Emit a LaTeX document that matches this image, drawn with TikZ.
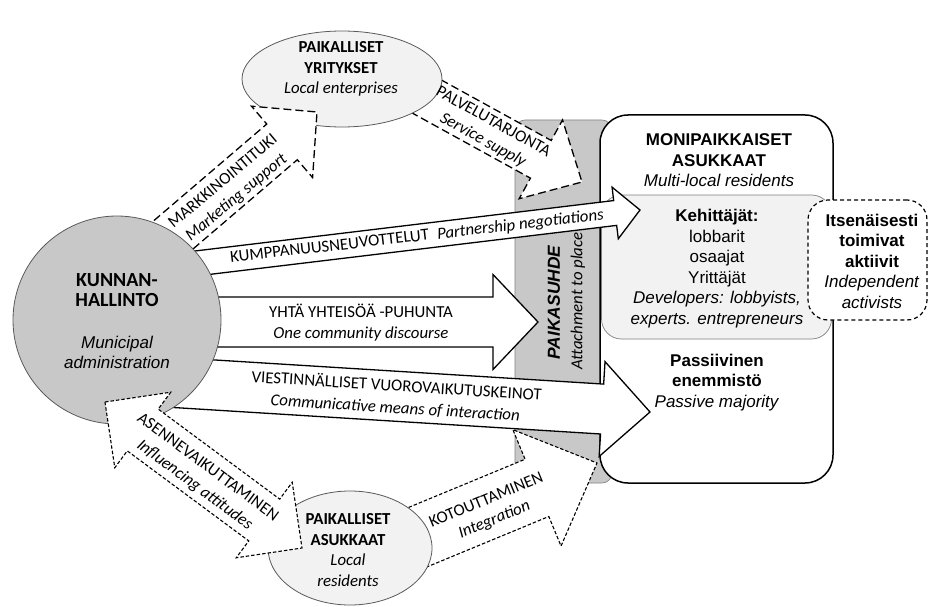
\documentclass[tikz,border=0pt]{standalone}
\usepackage{fontspec}
\setmainfont{Carlito}
\newfontfamily\arialf{Liberation Sans}
\usetikzlibrary{calc,shapes.geometric}
\definecolor{cgray}{RGB}{200,200,200}
\definecolor{lgray}{RGB}{242,242,242}
\definecolor{bordergray}{RGB}{90,90,90}
\definecolor{bargray}{RGB}{130,130,130}
% #1 style, #2 tail, #3 tip, #4 shaft half width, #5 head half width, #6 head length
\newcommand\blockarrow[6]{%
  \coordinate (bah) at ($(#3)!#6!(#2)$);
  \draw[#1] ($(#2)!#4!90:(#3)$) -- ($(bah)!#4!90:(#3)$) -- ($(bah)!#5!90:(#3)$) -- (#3)
    -- ($(bah)!#5!-90:(#3)$) -- ($(bah)!#4!-90:(#3)$) -- ($(#2)!#4!-90:(#3)$) -- cycle;}
\newcommand\dblblockarrow[6]{%
  \coordinate (baa) at ($(#2)!#6!(#3)$);
  \coordinate (bab) at ($(#3)!#6!(#2)$);
  \draw[#1] (#2) -- ($(baa)!#5!90:(#3)$) -- ($(baa)!#4!90:(#3)$) -- ($(bab)!#4!-90:(#2)$)
    -- ($(bab)!#5!-90:(#2)$) -- (#3) -- ($(bab)!#5!90:(#2)$) -- ($(bab)!#4!90:(#2)$)
    -- ($(baa)!#4!-90:(#3)$) -- ($(baa)!#5!-90:(#3)$) -- cycle;}
\begin{document}
\begin{tikzpicture}[x=1pt,y=-1pt,
  arr/.style={draw=black,line width=1.3pt,fill=white,line join=miter},
  arrlong/.style={arr,dash pattern=on 8pt off 4pt},
  arrshort/.style={arr,line width=1.1pt,dash pattern=on 3.5pt off 2pt},
  lbl/.style={inner sep=0pt,align=center,font=\fontsize{16.8}{21}\selectfont},
  atext/.style={inner sep=0pt,align=center,font=\arialf\fontsize{17}{20.5}\selectfont},
  ctext/.style={inner sep=0pt,align=center,font=\fontsize{16.8}{20.4}\selectfont}]
\useasboundingbox (0,0) rectangle (929,607);

% boxes on the right
\node[draw=bargray,line width=0.6pt,fill=cgray,rounded corners=10pt,minimum width=97pt,minimum height=363pt,inner sep=0pt] (bar) at (563.5,301.5) {};
\node[draw=black,line width=1.5pt,fill=white,rounded corners=28pt,minimum width=233pt,minimum height=368pt,inner sep=0pt] (mono) at (716.5,299) {};
\node[draw=gray,line width=0.7pt,fill=lgray,rounded corners=20pt,minimum width=230pt,minimum height=144pt,inner sep=0pt] (keh) at (716.5,267) {};
\node[draw=black,line width=1.2pt,dash pattern=on 4pt off 3pt,fill=white,rounded corners=20pt,minimum width=119pt,minimum height=120pt,inner sep=0pt] (ind) at (867.5,260) {};

% service supply arrow
\coordinate (palT) at (409.5,87); \coordinate (palH) at (582,182);
\blockarrow{arrlong}{palT}{palH}{21.5pt}{45pt}{47pt}

% local enterprises
\node[ellipse,draw=bordergray,line width=0.8pt,fill=lgray,minimum width=200pt,minimum height=96pt,inner sep=0pt] (yrit) at (342,79) {};

% marketing support arrow
\coordinate (mkT) at (151,254); \coordinate (mkH) at (317,112);
\blockarrow{arrlong}{mkT}{mkH}{23.5pt}{47pt}{46pt}

% partnership negotiations
\coordinate (kuT) at (150,269); \coordinate (kuH) at (640,210);
\blockarrow{arr}{kuT}{kuH}{12.5pt}{26pt}{25pt}

% one community discourse
\coordinate (yhT) at (150,322); \coordinate (yhH) at (538,322);
\blockarrow{arr}{yhT}{yhH}{25pt}{47.5pt}{45pt}

% communicative means
\coordinate (viT) at (150,381); \coordinate (viH) at (650,412);
\blockarrow{arr}{viT}{viH}{25pt}{47.5pt}{48pt}

% integration
\coordinate (koT) at (395,546.6); \coordinate (koH) at (597,463);
\blockarrow{arrshort}{koT}{koH}{31pt}{63pt}{65pt}

% municipal administration
\node[circle,draw=bordergray,line width=0.8pt,fill=cgray,minimum size=208pt,inner sep=0pt] (kunta) at (117,320) {};
% local residents
\node[ellipse,draw=bordergray,line width=0.8pt,fill=lgray,minimum width=164pt,minimum height=114pt,inner sep=0pt] (asuk) at (350,548) {};

% influencing attitudes (double)
\coordinate (asA) at (105,402); \coordinate (asB) at (302,548);
\dblblockarrow{arrshort}{asA}{asB}{26pt}{47pt}{47pt}

% texts
\node[inner sep=0pt,align=center,font=\fontsize{20}{20}\selectfont\bfseries] (ktT) at (117,290.5) {KUNNAN-\\HALLINTO};
\node[atext,font=\arialf\itshape\fontsize{17}{20}\selectfont] (ktE) at (117,352) {Municipal\\administration};

\node[ctext] (yrT) at (341,69) {\textbf{PAIKALLISET}\\\textbf{YRITYKSET}\\\textit{Local enterprises}};
\node[ctext,font=\fontsize{16.8}{20.7}\selectfont] (asT) at (348,550) {\textbf{PAIKALLISET}\\\textbf{ASUKKAAT}\\\textit{Local}\\\textit{residents}};

\node[atext] (moT) at (719,160.5) {\textbf{MONIPAIKKAISET}\\\textbf{ASUKKAAT}\\\textit{Multi-local residents}};
\node[atext] (keT) at (717,268.5) {\textbf{Kehittäjät:}\\lobbarit\\osaajat\\Yrittäjät\\\textit{Developers: lobbyists,}\\\textit{experts. entrepreneurs}};
\node[atext] (inT) at (872,261) {\textbf{Itsenäisesti}\\\textbf{toimivat}\\\textbf{aktiivit}\\\textit{Independent}\\\textit{activists}};
\node[atext] (paT) at (717,382.5) {\textbf{Passiivinen}\\\textbf{enemmistö}\\\textit{Passive majority}};

\node[inner sep=0pt,rotate=90,font=\arialf\bfseries\itshape\fontsize{17.4}{20}\selectfont] (psT) at (554,302.5) {PAIKASUHDE};
\node[inner sep=0pt,rotate=90,font=\itshape\fontsize{16.8}{20}\selectfont] (psE) at (578,301) {Attachment to place};

\node[lbl,rotate=40] (mkL) at (230,190) {MARKKINOINTITUKI\\\textit{Marketing support}};
\node[lbl,rotate=-29] (paL) at (488,131.5) {PALVELUTARJONTA\\\textit{Service supply}};
\node[lbl,rotate=6.5] (kuL) at (417,237) {KUMPPANUUSNEUVOTTELUT\enspace\textit{Partnership negotiations}};
\node[lbl] (yhL) at (361,323) {YHTÄ YHTEISÖÄ -PUHUNTA\\\textit{One community discourse}};
\node[lbl,font=\fontsize{16.8}{22}\selectfont,rotate=-3.6] (viL) at (396,396.5) {VIESTINNÄLLISET VUOROVAIKUTUSKEINOT\\\textit{Communicative means of interaction}};
\node[lbl,font=\fontsize{16.8}{22}\selectfont,rotate=-36.5] (asL) at (201,476.5) {ASENNEVAIKUTTAMINEN\\\textit{Influencing attitudes}};
\node[lbl,rotate=22.5] (koL) at (490.5,510.5) {KOTOUTTAMINEN\\\textit{Integration}};
\end{tikzpicture}
\end{document}
